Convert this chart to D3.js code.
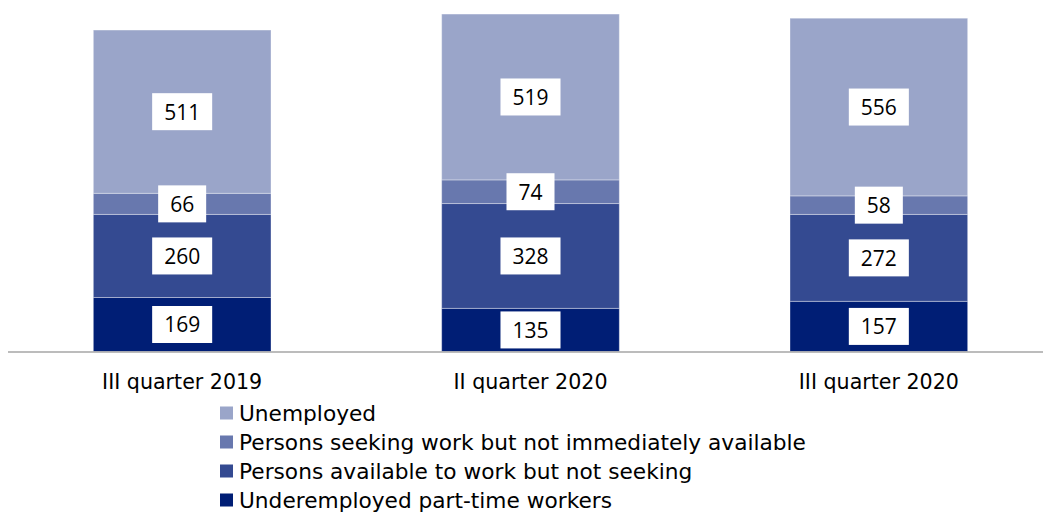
<!DOCTYPE html>
<html><head><meta charset="utf-8">
<script src="https://cdn.jsdelivr.net/npm/d3@7"></script>
<style>body{margin:0;background:#fff;}svg{display:block;font-family:"DejaVu Sans",sans-serif;}</style>
</head><body><svg id="c" width="1043" height="513"></svg>
<script>
const categories = ["III quarter 2019", "II quarter 2020", "III quarter 2020"];
const seriesNames = ["Underemployed part-time workers", "Persons available to work but not seeking", "Persons seeking work but not immediately available", "Unemployed"];
const underemployed = [169, 135, 157];
const availableNotSeeking = [260, 328, 272];
const seekingNotAvailable = [66, 74, 58];
const unemployed = [511, 519, 556];
const colors = ["#001e75", "#344a91", "#6878ae", "#9aa5c9"];

const seriesValues = [underemployed, availableNotSeeking, seekingNotAvailable, unemployed];
const rows = categories.map((c, i) => {
  const r = {cat: c};
  seriesNames.forEach((s, k) => r[s] = seriesValues[k][i]);
  return r;
});
const stack = d3.stack().keys(seriesNames)(rows);

const svg = d3.select("#c");
const x = d3.scaleBand().domain(categories).range([8, 1053]).paddingInner(0.49).paddingOuter(0.245);
const y = d3.scaleLinear().domain([0, 1100]).range([351.5, 0]);

const g = svg.append("g");
stack.forEach((layer, k) => {
  g.selectAll(null).data(layer).enter().append("rect")
    .attr("x", d => x(d.data.cat))
    .attr("width", x.bandwidth())
    .attr("y", d => y(d[1]))
    .attr("height", d => y(d[0]) - y(d[1]))
    .attr("fill", colors[k])
    .attr("stroke", "rgba(255,255,255,0.35)")
    .attr("stroke-width", 1);
});

// axis line
svg.append("line").attr("x1", 8).attr("x2", 1043).attr("y1", y(0) + 0.5).attr("y2", y(0) + 0.5)
  .attr("stroke", "#a6a6a6").attr("stroke-width", 1.5);

// value labels
const fs = 21;
stack.forEach((layer, k) => {
  layer.forEach(d => {
    const cx = x(d.data.cat) + x.bandwidth() / 2;
    const cy = (y(d[0]) + y(d[1])) / 2;
    const lg = svg.append("g");
    const t = lg.append("text").attr("x", cx).attr("y", cy).attr("text-anchor", "middle")
      .attr("dominant-baseline", "central").attr("font-size", fs).attr("fill", "#000")
      .style("font-family", "'Open Sans', sans-serif")
      .text(d[1] - d[0]);
    const w = t.node().getComputedTextLength();
    lg.insert("rect", "text").attr("x", cx - w / 2 - 12).attr("y", cy - 18.5)
      .attr("width", w + 24).attr("height", 37).attr("fill", "#fff");
  });
});

// category labels
svg.selectAll(null).data(categories).enter().append("text")
  .attr("x", d => x(d) + x.bandwidth() / 2).attr("y", 388.5)
  .attr("text-anchor", "middle").attr("font-size", 20.6).attr("fill", "#000").text(d => d);

// legend
const legendOrder = [3, 2, 1, 0];
legendOrder.forEach((k, i) => {
  const cy = 413 + i * 29;
  svg.append("rect").attr("x", 220).attr("y", cy - 6.5).attr("width", 13).attr("height", 13).attr("fill", colors[k]);
  svg.append("text").attr("x", 239).attr("y", cy).attr("dominant-baseline", "central")
    .attr("font-size", 21.7).attr("fill", "#000").text(seriesNames[k]);
});
</script></body></html>
